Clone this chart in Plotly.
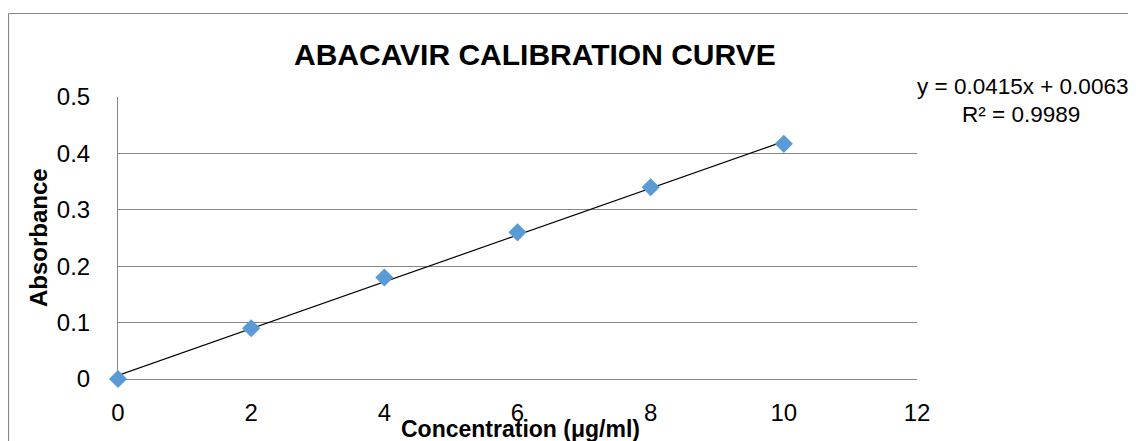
import plotly.graph_objects as go

# Data
concentration = [0, 2, 4, 6, 8, 10]
absorbance = [0, 0.09, 0.18, 0.26, 0.34, 0.417]
slope = 0.0415
intercept = 0.0063
r_squared = 0.9989
x_ticks = [0, 2, 4, 6, 8, 10, 12]
y_ticks = [0, 0.1, 0.2, 0.3, 0.4, 0.5]

OFF = 8  # default page body margin
W, H = 1136 - OFF, 441 - OFF
L, R, T, B = 118, 917, 97, 379  # target pixel positions in the window


def px(x):
    return (x - L) / (R - L)


def py(y):
    return (B - y) / (B - T)


FONT = "Liberation Sans"
GRID = "#868686"

fig = go.Figure()

trend_x = [min(concentration), max(concentration)]
trend_y = [slope * v + intercept for v in trend_x]
fig.add_trace(go.Scatter(x=trend_x, y=trend_y, mode="lines",
                         line=dict(color="black", width=1.2), hoverinfo="skip",
                         showlegend=False, cliponaxis=False))
fig.add_trace(go.Scatter(x=concentration, y=absorbance, mode="markers",
                         marker=dict(symbol="diamond", size=14, color="#5B9BD5",
                                     line=dict(width=0)),
                         showlegend=False, cliponaxis=False))

fig.update_layout(
    width=W, height=H,
    margin=dict(l=L - OFF, r=1136 - R, t=T - OFF, b=441 - B),
    paper_bgcolor="white", plot_bgcolor="white",
    font=dict(family=FONT, color="black"),
    xaxis=dict(range=[0, 12], tickvals=x_ticks, ticktext=[str(v) for v in x_ticks],
               showgrid=False, zeroline=False, showline=True, linecolor=GRID,
               linewidth=1, ticks="", tickfont=dict(size=24, color="black"),
               ticklabelstandoff=12, fixedrange=True, layer="below traces"),
    yaxis=dict(range=[0, 0.5], tickvals=y_ticks, ticktext=["0", "0.1", "0.2", "0.3", "0.4", "0.5"],
               showgrid=True, gridcolor=GRID, gridwidth=1, zeroline=False,
               showline=True, linecolor=GRID, linewidth=1, ticks="",
               tickfont=dict(size=24, color="black"), ticklabelstandoff=22,
               fixedrange=True, layer="below traces"),
    shapes=[
        dict(type="line", xref="paper", yref="paper", x0=px(8.5), x1=px(1200),
             y0=py(13.5), y1=py(13.5), line=dict(color=GRID, width=1.2)),
        dict(type="line", xref="paper", yref="paper", x0=px(8.5), x1=px(8.5),
             y0=py(13.5), y1=py(500), line=dict(color=GRID, width=1.2)),
    ],
    annotations=[
        dict(text="<b>ABACAVIR CALIBRATION CURVE</b>", xref="paper", yref="paper",
             x=px(535), y=py(55), xanchor="center", yanchor="middle", showarrow=False,
             font=dict(size=30, family=FONT, color="black")),
        dict(text="<b>Absorbance</b>", xref="paper", yref="paper",
             x=px(38), y=py(238), xanchor="center", yanchor="middle", showarrow=False,
             textangle=-90, font=dict(size=24, family=FONT, color="black")),
        dict(text="<b>Concentration (μg/ml)</b>", xref="paper", yref="paper",
             x=px(520), y=py(429), xanchor="center", yanchor="middle", showarrow=False,
             font=dict(size=23, family=FONT, color="black")),
        dict(text=f"y = {slope}x + {intercept}", xref="paper", yref="paper",
             x=px(915), y=py(86), xanchor="left", yanchor="middle", showarrow=False,
             font=dict(size=22.5, family=FONT, color="black")),
        dict(text=f"R² = {r_squared}", xref="paper", yref="paper",
             x=px(1021), y=py(114), xanchor="center", yanchor="middle", showarrow=False,
             font=dict(size=22.5, family=FONT, color="black")),
    ],
)

fig.write_html("out.html")
